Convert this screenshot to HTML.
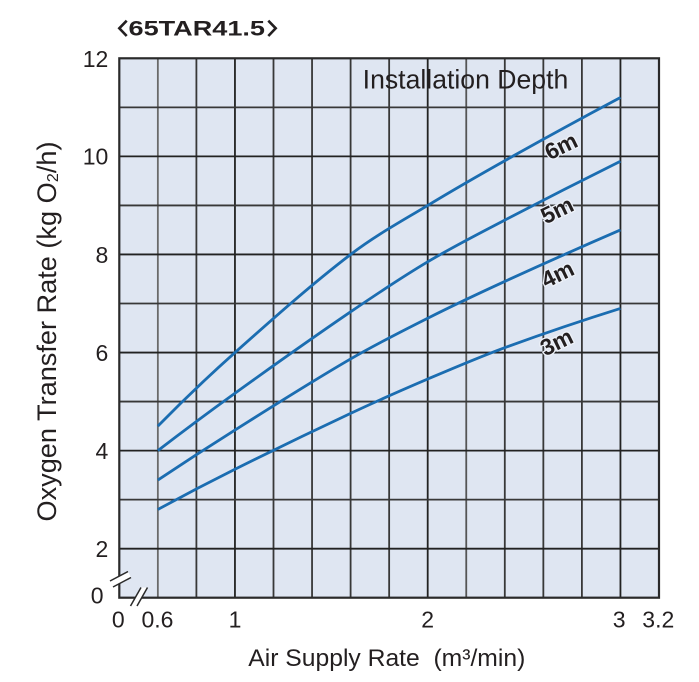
<!DOCTYPE html>
<html><head><meta charset="utf-8"><style>
html,body{margin:0;padding:0;background:#fff;}
svg{display:block;}
text{font-family:"Liberation Sans","Noto Sans CJK JP",sans-serif;fill:#231f20;}
</style></head><body>
<svg width="699" height="682" viewBox="0 0 699 682" xmlns="http://www.w3.org/2000/svg">
<!-- title -->
<polyline points="126.7,20.7 119.3,28.3 126.7,36" fill="none" stroke="#231f20" stroke-width="2.6"/>
<text x="128.5" y="35.5" font-size="21.5" font-weight="bold" textLength="136.5" lengthAdjust="spacingAndGlyphs">65TAR41.5</text>
<polyline points="268.3,20.7 275.7,28.3 268.3,36" fill="none" stroke="#231f20" stroke-width="2.6"/>

<!-- plot background -->
<rect x="119.3" y="58.3" width="539.7" height="539.4" fill="#dfe6f2"/>

<!-- grid -->
<g stroke="#383838" stroke-width="1.8">
<line x1="157.85" y1="58.3" x2="157.85" y2="597.7" stroke="#6a6a6a"/>
<line x1="196.4" y1="58.3" x2="196.4" y2="597.7"/>
<line x1="234.95" y1="58.3" x2="234.95" y2="597.7" stroke="#222"/>
<line x1="273.5" y1="58.3" x2="273.5" y2="597.7"/>
<line x1="312.05" y1="58.3" x2="312.05" y2="597.7"/>
<line x1="350.6" y1="58.3" x2="350.6" y2="597.7"/>
<line x1="389.15" y1="58.3" x2="389.15" y2="597.7"/>
<line x1="427.7" y1="58.3" x2="427.7" y2="597.7" stroke="#222"/>
<line x1="466.25" y1="58.3" x2="466.25" y2="597.7" stroke="#555"/>
<line x1="504.8" y1="58.3" x2="504.8" y2="597.7"/>
<line x1="543.35" y1="58.3" x2="543.35" y2="597.7"/>
<line x1="581.9" y1="58.3" x2="581.9" y2="597.7"/>
<line x1="620.45" y1="58.3" x2="620.45" y2="597.7" stroke="#222"/>
<line x1="119.3" y1="107.34" x2="659" y2="107.34"/>
<line x1="119.3" y1="156.38" x2="659" y2="156.38" stroke="#222"/>
<line x1="119.3" y1="205.42" x2="659" y2="205.42"/>
<line x1="119.3" y1="254.46" x2="659" y2="254.46" stroke="#222"/>
<line x1="119.3" y1="303.5" x2="659" y2="303.5"/>
<line x1="119.3" y1="352.54" x2="659" y2="352.54" stroke="#222"/>
<line x1="119.3" y1="401.58" x2="659" y2="401.58"/>
<line x1="119.3" y1="450.62" x2="659" y2="450.62" stroke="#222"/>
<line x1="119.3" y1="499.66" x2="659" y2="499.66"/>
<line x1="119.3" y1="548.7" x2="659" y2="548.7" stroke="#222"/>
</g>
<rect x="119.3" y="58.3" width="539.7" height="539.4" fill="none" stroke="#2a2a2a" stroke-width="2.2"/>

<!-- break marks -->
<polygon points="110,581 128,571.5 131,577.5 113,587" fill="#fff"/>
<line x1="110" y1="581" x2="128" y2="571.5" stroke="#2a2a2a" stroke-width="1.5"/>
<line x1="113" y1="587" x2="131" y2="577.5" stroke="#2a2a2a" stroke-width="1.5"/>
<polygon points="130.5,606 141,587.5 147.5,587.5 137,606" fill="#fff"/>
<line x1="130.5" y1="606" x2="141" y2="587.5" stroke="#2a2a2a" stroke-width="1.5"/>
<line x1="137" y1="606" x2="147.5" y2="587.5" stroke="#2a2a2a" stroke-width="1.5"/>

<!-- curves -->
<g fill="none" stroke="#1b6db1" stroke-width="2.8" stroke-linejoin="round" stroke-linecap="butt">
<path d="M157.85,426.1 C183.55,399.95 209.25,375.43 234.95,352.54 C273.5,318.21 312.05,283.89 350.6,254.46 C376.3,234.84 402,220.99 427.7,205.42 C455.97,188.29 484.23,172.2 512.5,156.38 C548.48,136.24 584.47,116.62 620.45,97.53"/>
<path d="M157.85,450.62 C183.55,430.87 209.25,411.74 234.95,393.24 C273.5,365.48 312.05,338.12 350.6,311.84 C376.3,294.32 402,277.1 427.7,261.82 C453.4,246.54 479.1,233.54 504.8,220.13 C543.35,200.02 581.9,180.41 620.45,161.28"/>
<path d="M157.85,480.04 C183.55,462.84 209.25,446.17 234.95,430.02 C273.5,405.8 312.05,381.28 350.6,358.92 C376.3,344.01 402,331.12 427.7,318.21 C453.4,305.3 479.1,293.2 504.8,281.43 C543.35,263.77 581.9,246.61 620.45,229.94"/>
<path d="M157.85,509.47 C183.55,495.48 209.25,482.08 234.95,469.26 C273.5,450.04 312.05,431.4 350.6,413.35 C376.3,401.32 402,389.97 427.7,379.02 C453.4,368.07 479.1,357.06 504.8,347.64 C543.35,333.52 581.9,320.44 620.45,308.4"/>
</g>

<!-- curve labels -->
<g font-size="23" font-weight="bold" text-anchor="middle" stroke="#eef2f9" stroke-width="2.5" style="paint-order:stroke">
<text transform="translate(561,146) rotate(-26)" y="8">6m</text>
<text transform="translate(557,210) rotate(-26)" y="8">5m</text>
<text transform="translate(557.5,274) rotate(-26)" y="8">4m</text>
<text transform="translate(556.5,342) rotate(-26)" y="8">3m</text>
</g>

<!-- legend title -->
<text x="362.7" y="88.3" font-size="26.5" textLength="205.6" lengthAdjust="spacingAndGlyphs">Installation Depth</text>

<!-- y ticks -->
<g font-size="23" text-anchor="end">
<text x="108.3" y="66.8">12</text>
<text x="108.3" y="164.6">10</text>
<text x="108.3" y="262.8">8</text>
<text x="108.3" y="360.9">6</text>
<text x="108.3" y="458.9">4</text>
<text x="108.3" y="557">2</text>
<text x="103.5" y="603.3">0</text>
</g>

<!-- x ticks -->
<g font-size="23" text-anchor="middle">
<text x="118.3" y="627.3">0</text>
<text x="157.5" y="627.3">0.6</text>
<text x="235" y="627.3">1</text>
<text x="427.7" y="627.3">2</text>
<text x="619.2" y="627.3">3</text>
<text x="658.3" y="627.3">3.2</text>
</g>

<!-- axis labels -->
<text x="248.3" y="666" font-size="24.5" textLength="277" lengthAdjust="spacingAndGlyphs" xml:space="preserve">Air Supply Rate  (m³/min)</text>
<text transform="translate(56,331.5) rotate(-90)" font-size="26.5" text-anchor="middle" textLength="380" lengthAdjust="spacingAndGlyphs">Oxygen Transfer Rate (kg O<tspan font-size="16" dy="2">2</tspan><tspan dy="-2">/h)</tspan></text>
</svg>
</body></html>
